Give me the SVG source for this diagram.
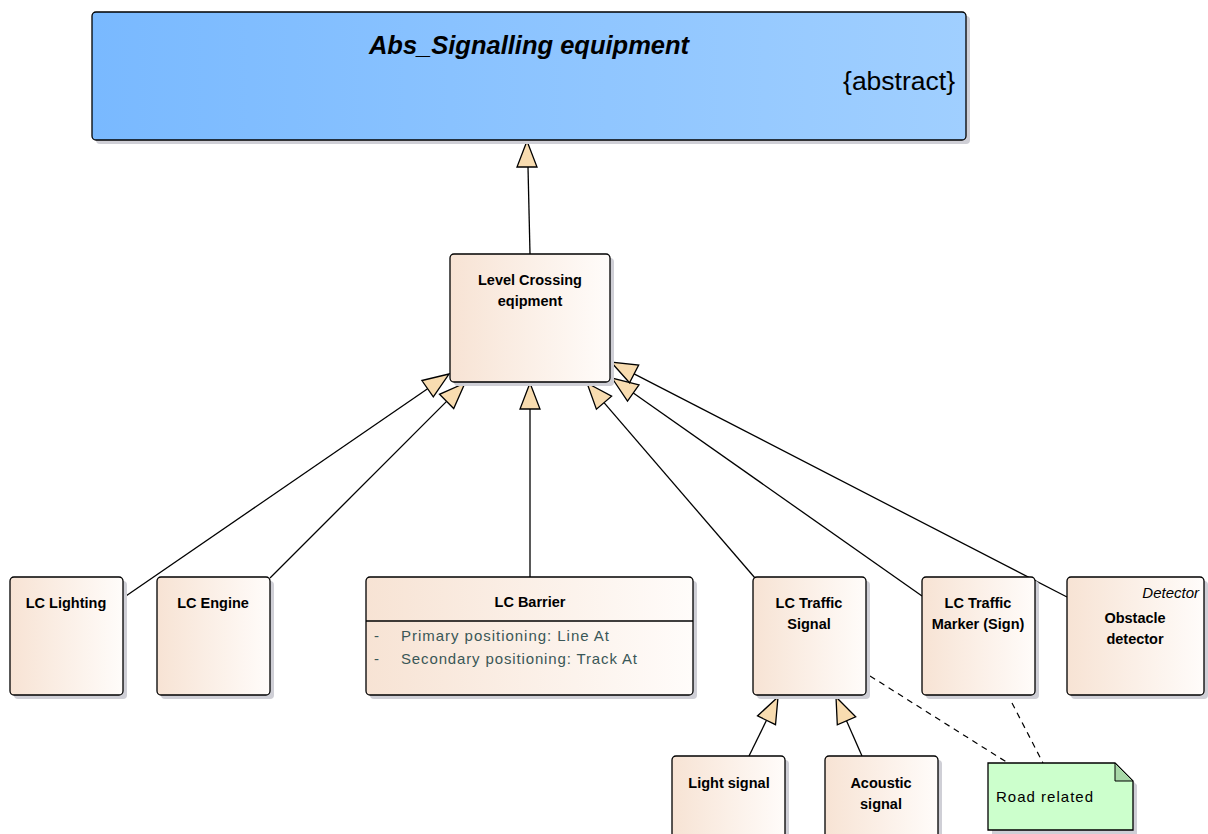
<svg xmlns="http://www.w3.org/2000/svg" width="1208" height="834" viewBox="0 0 1208 834">
<defs>
<linearGradient id="gBlue" x1="0" y1="0" x2="1" y2="0">
<stop offset="0" stop-color="#79b9ff"/>
<stop offset="1" stop-color="#a0cfff"/>
</linearGradient>
<linearGradient id="gNode" x1="0" y1="0" x2="1" y2="0">
<stop offset="0" stop-color="#f7e3d4"/>
<stop offset="1" stop-color="#fffcfa"/>
</linearGradient>
<style>
.box{fill:url(#gNode);stroke:#000;stroke-width:1.3}
.shadow{fill:#cfcfd6}
.t{font-family:"Liberation Sans",Arial,sans-serif;font-size:14.5px;font-weight:bold;fill:#000;text-anchor:middle}
.attr{font-family:"Liberation Sans",Arial,sans-serif;font-size:15px;fill:#3a5757}
.line{stroke:#000;stroke-width:1.3;fill:none}
.dash{stroke:#000;stroke-width:1.2;fill:none;stroke-dasharray:6 5}
.head{fill:#f8dcb0;stroke:#000;stroke-width:1.3;stroke-linejoin:miter}
</style>
</defs>

<g id="connectors">
<line class="line" x1="530" y1="254" x2="528" y2="167"/>
<polygon class="head" points="527,141 517,167 537,167"/>

<line class="line" x1="123" y1="598" x2="427.6" y2="388.7"/>
<polygon class="head" points="449,374 421.9,380.5 433.3,396.9"/>

<line class="line" x1="270" y1="578" x2="446.6" y2="401.4"/>
<polygon class="head" points="465,383 439.5,394.3 453.7,408.5"/>

<line class="line" x1="530" y1="577" x2="530" y2="409"/>
<polygon class="head" points="530,383 520,409 540,409"/>

<line class="line" x1="755" y1="578" x2="604" y2="402.7"/>
<polygon class="head" points="587,383 596.4,409.2 611.6,396.2"/>

<line class="line" x1="922" y1="596" x2="633.3" y2="393"/>
<polygon class="head" points="612,378 627.5,401.2 639,384.8"/>

<line class="line" x1="1067" y1="597" x2="634.1" y2="373.9"/>
<polygon class="head" points="611,362 629.5,382.8 638.7,365"/>

<line class="line" x1="749" y1="756" x2="766.5" y2="720.3"/>
<polygon class="head" points="778,697 757.5,715.9 775.5,724.7"/>

<line class="line" x1="862" y1="756" x2="846.5" y2="720.8"/>
<polygon class="head" points="836,697 837.3,724.8 855.7,716.8"/>

<line class="dash" x1="870" y1="676" x2="1008" y2="763"/>
<line class="dash" x1="1012" y1="703" x2="1043" y2="763"/>
</g>

<g id="abs-signalling-equipment">
<rect class="shadow" x="96" y="16" width="874" height="128" rx="4"/>
<rect x="92" y="12" width="874" height="128" rx="4" fill="url(#gBlue)" stroke="#000" stroke-width="1.3"/>
<text x="529" y="54" font-family="Liberation Sans,Arial,sans-serif" font-size="25.5" font-weight="bold" font-style="italic" text-anchor="middle">Abs_Signalling equipment</text>
<text x="955" y="90" font-family="Liberation Sans,Arial,sans-serif" font-size="26.5" text-anchor="end">{abstract}</text>
</g>

<g id="level-crossing-equipment">
<rect class="shadow" x="454" y="258" width="160" height="128" rx="4"/>
<rect class="box" x="450" y="254" width="160" height="128" rx="4"/>
<text class="t" x="530" y="285">Level Crossing</text>
<text class="t" x="530" y="306">eqipment</text>
</g>

<g id="lc-lighting">
<rect class="shadow" x="14" y="581" width="113" height="118" rx="4"/>
<rect class="box" x="10" y="577" width="113" height="118" rx="4"/>
<text class="t" x="66" y="608">LC Lighting</text>
</g>

<g id="lc-engine">
<rect class="shadow" x="161" y="581" width="113" height="118" rx="4"/>
<rect class="box" x="157" y="577" width="113" height="118" rx="4"/>
<text class="t" x="213" y="608">LC Engine</text>
</g>

<g id="lc-barrier">
<rect class="shadow" x="370" y="581" width="327" height="118" rx="4"/>
<rect class="box" x="366" y="577" width="327" height="118" rx="4"/>
<line class="line" x1="366" y1="621" x2="693" y2="621"/>
<text class="t" x="530" y="607">LC Barrier</text>
<text class="attr" x="374" y="641">-</text>
<text class="attr" x="401" y="641" textLength="208" lengthAdjust="spacing">Primary positioning: Line At</text>
<text class="attr" x="374" y="664">-</text>
<text class="attr" x="401" y="664" textLength="236" lengthAdjust="spacing">Secondary positioning: Track At</text>
</g>

<g id="lc-traffic-signal">
<rect class="shadow" x="757" y="581" width="113" height="118" rx="4"/>
<rect class="box" x="753" y="577" width="113" height="118" rx="4"/>
<text class="t" x="809" y="608">LC Traffic</text>
<text class="t" x="809" y="629">Signal</text>
</g>

<g id="lc-traffic-marker">
<rect class="shadow" x="926" y="581" width="113" height="118" rx="4"/>
<rect class="box" x="922" y="577" width="113" height="118" rx="4"/>
<text class="t" x="978" y="608">LC Traffic</text>
<text class="t" x="978" y="629">Marker (Sign)</text>
</g>

<g id="obstacle-detector">
<rect class="shadow" x="1071" y="581" width="137" height="118" rx="4"/>
<rect class="box" x="1067" y="577" width="137" height="118" rx="4"/>
<text x="1199" y="598" font-family="Liberation Sans,Arial,sans-serif" font-size="15" font-style="italic" text-anchor="end">Detector</text>
<text class="t" x="1135" y="623">Obstacle</text>
<text class="t" x="1135" y="644">detector</text>
</g>

<g id="light-signal">
<rect class="shadow" x="676" y="760" width="113" height="90" rx="4"/>
<rect class="box" x="672" y="756" width="113" height="90" rx="4"/>
<text class="t" x="729" y="788">Light signal</text>
</g>

<g id="acoustic-signal">
<rect class="shadow" x="829" y="760" width="113" height="90" rx="4"/>
<rect class="box" x="825" y="756" width="113" height="90" rx="4"/>
<text class="t" x="881" y="788">Acoustic</text>
<text class="t" x="881" y="809">signal</text>
</g>

<g id="road-related-note">
<path d="M992,767 H1119 L1137,785 V834 H992 Z" fill="#cfcfd6"/>
<path d="M988,763 H1115 L1133,781 V830 H988 Z" fill="#ccffcc" stroke="#000" stroke-width="1.3"/>
<polygon points="1115,763 1115,781 1133,781" fill="#a8d8a8" stroke="#000" stroke-width="1"/>
<text x="996" y="802" font-family="Liberation Sans,Arial,sans-serif" font-size="15" textLength="97" lengthAdjust="spacing">Road related</text>
</g>
</svg>
